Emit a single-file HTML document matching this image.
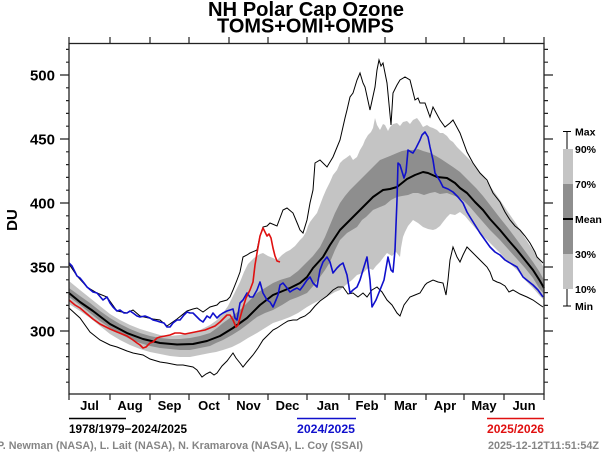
<!DOCTYPE html>
<html><head><meta charset="utf-8"><style>
html,body{margin:0;padding:0;background:#fff;}
svg{display:block;}
text{font-family:"Liberation Sans",Arial,sans-serif;font-weight:bold;}
</style></head><body>
<svg width="604" height="453" viewBox="0 0 604 453" xmlns="http://www.w3.org/2000/svg">
<rect width="604" height="453" fill="#fff"/>
<!-- Title -->
<text x="306" y="16" font-size="20" text-anchor="middle" textLength="196" lengthAdjust="spacingAndGlyphs">NH Polar Cap Ozone</text>
<text x="305.5" y="32.5" font-size="20" text-anchor="middle" textLength="177" lengthAdjust="spacingAndGlyphs">TOMS+OMI+OMPS</text>

<!-- Light band 10-90 -->
<polygon fill="#c4c4c4" points="69,281 80,290 90,298 100,306 110,314 120,320 130,325 140,329 150,332 160,335 170,336 180,335 190,333 200,330 210,325 217,320 223,313 228,306 232,298 236,290 240,282 244,272 248,264 250,262 254,258 257,256 260,254 263,253 268,256 273,258 277,260 282,255 286,252 290,250 295,246 300,240 303,237 306,232 308,226 310,222 313,218 317,213 320,205 323,197 326,190 330,182 333,175 337,170 340,163 343,160 346,158 350,155 353,160 357,157 360,150 363,145 365,140 368,135 371,132 373,128 375,118 377,125 380,130 383,124 385,125 388,131 390,127 393,124 397,123 400,126 403,122 407,121 410,124 413,120 417,118 420,122 423,127 427,125 430,127 433,128 437,130 440,133 443,133 447,136 450,140 453,142 457,147 460,150 465,155 470,160 476,168 483,176 490,186 500,200 508,212 517,225 525,238 533,250 539,259 544,268 544,300 539,295 533,288 525,280 517,270 508,262 500,253 492,245 483,236 476,229 470,222 465,216 460,212 455,215 450,214 447,217 443,222 440,226 436,229 433,230 428,229 423,227 418,223 413,220 408,226 405,232 403,237 401,248 400,257 396,252 392,256 387,253 383,258 380,262 376,266 373,270 368,268 363,273 357,275 352,280 347,284 340,290 335,292 330,295 325,297 320,300 314,303 307,307 298,313 290,317 282,320 273,323 265,328 257,333 248,338 240,343 232,347 223,350 216,352 210,353 200,355 190,357 180,357 170,356 160,354 150,352 140,349 130,345 120,340 110,334 100,326 90,318 80,311 69,304"/>
<!-- Dark band 30-70 -->
<polygon fill="#8e8e8e" points="69,288 80,296 90,303 100,311 110,318 120,324 130,329 140,333 150,336 160,338 170,339 180,339 190,338 200,336 210,333 217,328 223,323 230,318 240,310 248,302 257,293 265,288 273,283 280,280 290,277 298,271 307,262 313,256 320,247 325,237 330,225 335,213 340,203 345,196 350,190 357,183 362,178 367,173 373,167 377,163 380,160 385,158 390,156 397,153 402,151 407,150 413,150 418,149 423,151 430,153 436,156 441,159 447,163 453,167 460,172 465,177 470,182 476,188 483,196 490,205 500,218 508,228 517,240 525,251 533,262 539,271 544,280 544,294 539,288 533,278 525,268 517,259 508,249 500,240 490,230 483,222 476,214 470,207 465,202 460,198 455,196 447,193 440,194 435,192 430,193 424,195 418,193 413,193 408,195 402,196 397,197 391,200 385,205 380,207 373,210 366,217 362,220 357,227 352,230 347,233 340,240 335,250 330,262 325,270 320,277 314,285 307,293 298,297 290,300 282,305 273,310 265,313 257,317 248,324 240,330 232,335 223,340 216,343 210,346 200,348 190,350 180,350 170,349 160,348 150,346 140,343 130,339 120,334 110,328 100,321 90,313 80,305 69,297"/>

<!-- Max line -->
<polyline fill="none" stroke="#000" stroke-width="1" points="69,264 77,276 87,287 97,293 107,297 117,311 127,313 133,310 140,316 153,319 160,320 167,326 177,319 187,311 193,309 197,308 203,312 210,307 217,305 220,302 227,300 230,297 233,290 237,280 240,272 243,257 247,255 250,253 257,250 260,236 263,227 267,226 270,223 277,226 283,210 287,208 293,213 298,225 300,230 303,233 307,220 310,203 313,190 315,163 320,160 327,167 333,157 340,140 345,118 347,110 350,97 353,93 357,80 360,73 363,83 365,87 370,110 375,87 377,70 379,60 381,66 383,63 387,83 391,125 393,93 397,85 400,80 405,77 410,80 415,100 418,98 420,103 425,103 430,117 433,107 440,120 445,127 450,123 453,120 460,133 467,152 473,163 480,173 487,180 493,193 500,202 505,212 510,220 515,226 520,230 525,236 530,243 535,252 537,257 543,263"/>
<!-- Min line -->
<polyline fill="none" stroke="#000" stroke-width="1" points="69,308 80,318 90,332 100,340 110,345 117,347 127,351 133,353 143,355 150,359 160,362 167,363 177,365 183,365 193,367 197,370 202,377 206,374 210,372 214,375 217,373 222,366 227,361 230,357 233,353 236,358 240,363 243,367 247,362 253,355 258,348 263,340 267,336 273,330 277,328 283,324 288,321 293,320 297,320 300,318 305,316 310,312 315,306 320,301 327,296 333,290 338,287 343,287 348,294 353,293 358,297 363,293 367,297 372,290 377,287 382,292 387,300 392,305 397,313 400,316 404,305 410,297 415,295 420,293 425,285 427,283 433,280 438,282 443,283 446,295 448,280 450,260 453,247 457,257 460,262 463,255 467,247 472,252 477,257 482,262 487,267 490,272 493,280 497,282 500,283 505,286 509,292 513,290 520,294 527,297 533,300 540,305 543,307"/>
<!-- Mean -->
<polyline fill="none" stroke="#000" stroke-width="2" stroke-linejoin="round" points="69,293 80,302 93,311 110,324 127,333 143,339 160,343 177,344.5 193,344 207,341 220,336 233,328 247,318 260,305 273,295 290,288 300,283 307,277 313,268 323,257 330,245 340,230 348,222 357,213 365,205 373,197 383,190 390,189 397,187 407,179 415,175 423,172 428,173 437,177 447,178 455,183 460,188 467,193 475,202 483,210 490,219 500,230 510,242 517,250 525,260 533,270 540,281 544,288"/>

<!-- Blue 2024/2025 -->
<polyline fill="none" stroke="#1010cc" stroke-width="1.6" stroke-linejoin="round" points="69,263 72,266 77,276 80,278 84,283 87,287 93,292 97,293 103,300 107,297 110,303 113,307 117,311 120,310 124,313 127,313 130,311 133,313 137,316 140,317 145,316 150,318 153,320 157,321 160,322 164,323 167,327 170,327 173,323 177,320 180,320 184,315 187,312 190,313 193,313 197,317 200,320 203,322 207,316 210,318 213,313 217,318 220,315 223,313 227,311 230,310 233,309 235,318 237,320 240,303 243,300 247,293 250,297 253,297 257,290 260,282 263,293 267,300 270,302 273,307 276,300 278,295 280,285 283,283 287,288 290,292 293,290 297,288 300,290 303,286 307,280 310,277 313,283 317,287 320,270 323,262 327,257 330,262 333,273 337,268 340,265 343,263 347,275 350,293 353,290 357,287 360,280 363,270 367,257 370,280 372,307 376,300 380,290 384,280 388,257 391,270 393,272 395,250 397,200 398,163 400,165 404,178 406,172 408,150 411,152 413,153 416,148 420,140 422,135 425,132 428,137 430,147 433,160 435,173 440,181 443,187 448,189 453,192 458,197 463,203 467,212 470,217 475,225 480,233 485,240 490,247 495,252 500,255 505,260 510,263 517,267 523,277 528,281 533,285 538,290 543,297"/>
<!-- Red 2025/2026 -->
<polyline fill="none" stroke="#e01010" stroke-width="1.6" stroke-linejoin="round" points="69,300 75,305 80,308 87,314 93,319 100,324 110,329 117,332 127,336 133,340 137,343 140,345 143,348 146,347 150,343 153,342 157,338 160,337 165,336 170,335 175,333 180,333 185,334 190,333 195,332 200,331 205,330 210,328 215,326 220,322 224,318 227,315 230,315 233,320 236,327 238,325 242,311 246,298 250,290 253,282 255,265 257,253 260,236 263,228 265,232 267,236 269,234 271,238 273,248 275,256 277,261 280,262"/>

<!-- Plot frame -->
<rect x="69" y="43.5" width="475" height="350.5" fill="none" stroke="#222" stroke-width="1.3"/>
<!-- Ticks -->
<path stroke="#222" stroke-width="1.2" fill="none" d="
M69,43.5V37 M110,43.5V37 M150,43.5V37 M189,43.5V37 M229,43.5V37 M268,43.5V37 M307,43.5V37 M349,43.5V37 M385,43.5V37 M426,43.5V37 M464,43.5V37 M504,43.5V37 M544,43.5V37
M69,394V400 M110,394V400 M150,394V400 M189,394V400 M229,394V400 M268,394V400 M307,394V400 M349,394V400 M385,394V400 M426,394V400 M464,394V400 M504,394V400 M544,394V400
M66,382.2H69 M66,369.4H69 M66,356.6H69 M66,343.8H69 M60,331H69 M66,318.2H69 M66,305.4H69 M66,292.6H69 M66,279.8H69 M60,267H69 M66,254.2H69 M66,241.4H69 M66,228.6H69 M66,215.8H69 M60,203H69 M66,190.2H69 M66,177.4H69 M66,164.6H69 M66,151.8H69 M60,139H69 M66,126.2H69 M66,113.4H69 M66,100.6H69 M66,87.8H69 M60,75H69 M66,62.2H69 M66,49.4H69
M544,382.2H548 M544,369.4H548 M544,356.6H548 M544,343.8H548 M544,331H553 M544,318.2H548 M544,305.4H548 M544,292.6H548 M544,279.8H548 M544,267H553 M544,254.2H548 M544,241.4H548 M544,228.6H548 M544,215.8H548 M544,203H553 M544,190.2H548 M544,177.4H548 M544,164.6H548 M544,151.8H548 M544,139H553 M544,126.2H548 M544,113.4H548 M544,100.6H548 M544,87.8H548 M544,75H553 M544,62.2H548 M544,49.4H548"/>

<!-- Y labels -->
<g font-size="15" text-anchor="end">
<text x="55" y="80.5">500</text>
<text x="55" y="144.5">450</text>
<text x="55" y="208.5">400</text>
<text x="55" y="272.5">350</text>
<text x="55" y="336.5">300</text>
</g>
<text x="17" y="220" font-size="15" text-anchor="middle" transform="rotate(-90 17 220)">DU</text>

<!-- Month labels -->
<g font-size="13" text-anchor="middle">
<text x="89.5" y="410">Jul</text>
<text x="130" y="410">Aug</text>
<text x="169.5" y="410">Sep</text>
<text x="209" y="410">Oct</text>
<text x="248.5" y="410">Nov</text>
<text x="287.5" y="410">Dec</text>
<text x="328" y="410">Jan</text>
<text x="367" y="410">Feb</text>
<text x="405.5" y="410">Mar</text>
<text x="445" y="410">Apr</text>
<text x="484" y="410">May</text>
<text x="524" y="410">Jun</text>
</g>

<!-- Right legend -->
<rect x="563" y="149" width="10" height="140" fill="#c4c4c4"/>
<rect x="563" y="184" width="10" height="70" fill="#8e8e8e"/>
<line x1="563" y1="219" x2="573" y2="219" stroke="#000" stroke-width="2"/>
<path stroke="#000" stroke-width="1" fill="none" d="M567,131.5V149 M563,131.5H571 M567,289V306 M563,306H571"/>
<g font-size="10.5">
<text x="575" y="135.5">Max</text>
<text x="575" y="153">90%</text>
<text x="575" y="188">70%</text>
<text x="575" y="223">Mean</text>
<text x="575" y="258">30%</text>
<text x="575" y="293">10%</text>
<text x="575" y="310">Min</text>
</g>

<!-- Bottom legend -->
<line x1="69" y1="418.5" x2="126" y2="418.5" stroke="#000" stroke-width="1.5"/>
<text x="69" y="433" font-size="12" textLength="118" lengthAdjust="spacingAndGlyphs">1978/1979−2024/2025</text>
<line x1="297" y1="418.5" x2="356" y2="418.5" stroke="#1010cc" stroke-width="1.5"/>
<text x="297" y="433" font-size="12" fill="#1010cc" textLength="58" lengthAdjust="spacingAndGlyphs">2024/2025</text>
<line x1="487" y1="418.5" x2="544" y2="418.5" stroke="#e01010" stroke-width="1.5"/>
<text x="487" y="433" font-size="12" fill="#e01010" textLength="57" lengthAdjust="spacingAndGlyphs">2025/2026</text>

<!-- Credits -->
<text x="-3" y="449" font-size="11" fill="#858585" textLength="366" lengthAdjust="spacingAndGlyphs">P. Newman (NASA), L. Lait (NASA), N. Kramarova (NASA), L. Coy (SSAI)</text>
<text x="488" y="449" font-size="11" fill="#858585" textLength="111" lengthAdjust="spacingAndGlyphs">2025-12-12T11:51:54Z</text>
</svg>
</body></html>
